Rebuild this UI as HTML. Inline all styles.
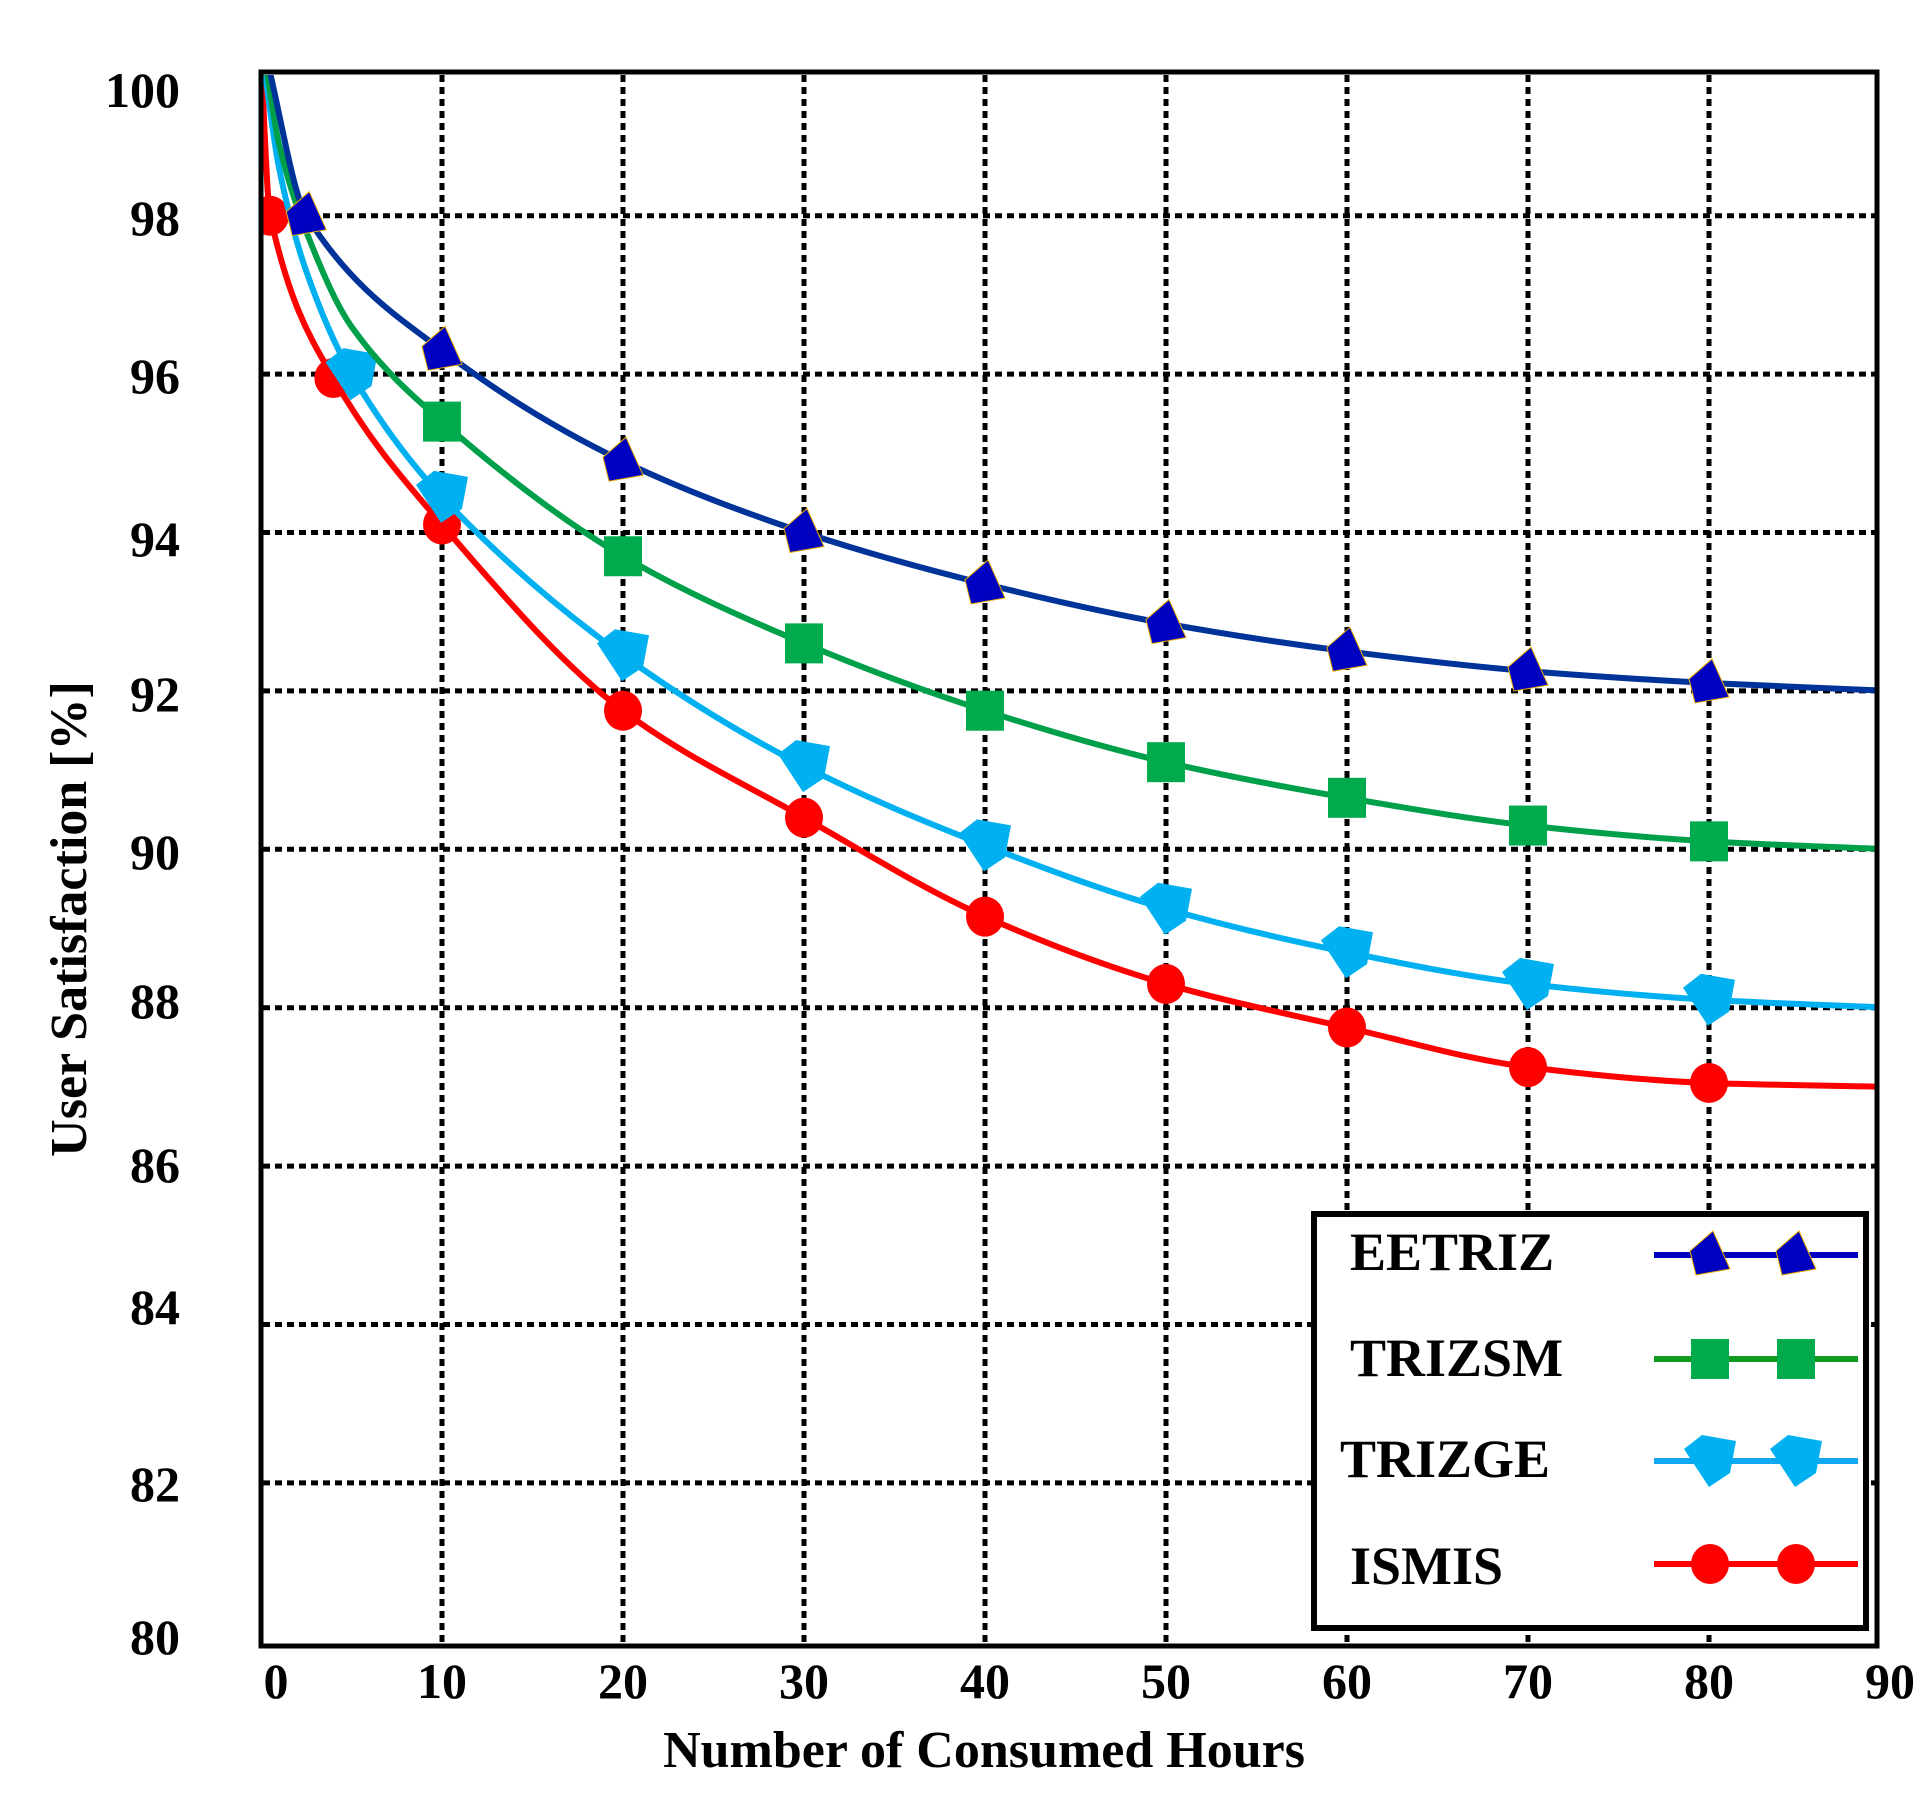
<!DOCTYPE html>
<html><head><meta charset="utf-8">
<style>
html,body{margin:0;padding:0;background:#fff;}
svg{display:block;}
text{font-family:"Liberation Serif","Times New Roman",serif;font-weight:bold;fill:#000;}
</style></head>
<body>
<svg id="chart" width="1924" height="1793" viewBox="0 0 1924 1793" font-family="Liberation Serif, serif">
<defs><clipPath id="plotclip"><rect x="263" y="75" width="1612" height="1569"/></clipPath></defs>
<rect x="0" y="0" width="1924" height="1793" fill="#fff"/>
<g id="grid"></g>
<g id="series" clip-path="url(#plotclip)"></g>
<rect x="261" y="72" width="1616" height="1574" fill="none" stroke="#000" stroke-width="5"/>
<g id="ticks"></g>
<text x="984" y="1767" font-size="52" text-anchor="middle" font-family="Liberation Serif, serif">Number of Consumed Hours</text>
<text x="0" y="0" font-size="52" text-anchor="middle" font-family="Liberation Serif, serif" transform="translate(86,919) rotate(-90)">User Satisfaction [%]</text>
<g id="legend"></g>
</svg>
<script>
const xTicks=[0,10,20,30,40,50,60,70,80,90];
const yTicks=[80,82,84,86,88,90,92,94,96,98,100];
const seriesNames=["EETRIZ","TRIZSM","TRIZGE","ISMIS"];
const eetrizX=[0.3,2.5,10,20,30,40,50,60,70,80,90];
const eetrizY=[100,98.0,96.3,94.9,94.0,93.35,92.85,92.5,92.25,92.1,92.0];
const trizsmX=[0.2,1,2.5,5,10,20,30,40,50,60,70,80,90];
const trizsmY=[100,98.9,97.8,96.6,95.4,93.7,92.6,91.75,91.1,90.65,90.3,90.1,90.0];
const trizgeX=[0.1,1,2.5,5,10,20,30,40,50,60,70,80,90];
const trizgeY=[100,98.6,97.3,96.0,94.45,92.45,91.05,90.05,89.25,88.7,88.3,88.1,88.0];
const ismisX=[0,0.5,4,10,20,30,40,50,60,70,80,90];
const ismisY=[100,98.0,95.95,94.1,91.75,90.4,89.15,88.3,87.75,87.25,87.05,87.0];
const markerIdxE=[1,2,3,4,5,6,7,8,9];
const markerIdxS=[4,5,6,7,8,9,10,11];
const markerIdxG=[3,4,5,6,7,8,9,10,11];
const markerIdxI=[1,2,3,4,5,6,7,8,9,10];

const NS="http://www.w3.org/2000/svg";
function xs(v){return 261+v*18.1;}
function ys(v){return 532.5+(94-v)*79.2;}
function mk(tag,attrs,parent){const e=document.createElementNS(NS,tag);for(const k in attrs)e.setAttribute(k,attrs[k]);parent.appendChild(e);return e;}

const grid=document.getElementById('grid');
xTicks.forEach(t=>{if(t===0||t===90)return;
 const l=mk('line',{x1:xs(t),x2:xs(t),y1:75,y2:1643,stroke:'#000','stroke-width':5,'stroke-dasharray':'7 5'},grid);
 
 });
yTicks.forEach(t=>{if(t===80||t===100)return;
 const l=mk('line',{x1:263,x2:1875,y1:ys(t),y2:ys(t),stroke:'#000','stroke-width':5,'stroke-dasharray':'7 5'},grid);
 
 });

const ticks=document.getElementById('ticks');
xTicks.forEach(t=>{const tx=mk('text',{x:xs(t)+(t===0?15:0),y:1698,'font-size':50,'text-anchor':'middle','font-family':'Liberation Serif, serif'},ticks);tx.textContent=t;
 
 });
const yLabelPos={100:90,98:218,96:376,94:539,92:694,90:852,88:1001,86:1165,84:1307,82:1484,80:1637};
yTicks.forEach(t=>{const tx=mk('text',{x:180,y:yLabelPos[t]+17,'font-size':50,'text-anchor':'end','font-family':'Liberation Serif, serif'},ticks);tx.textContent=t;
 
 });

function pathFor(X,Y){
 const p=X.map((x,i)=>[xs(x),ys(Y[i])]);
 const n=p.length,d=[],m=new Array(n);
 for(let i=0;i<n-1;i++)d.push((p[i+1][1]-p[i][1])/(p[i+1][0]-p[i][0]));
 m[0]=d[0];m[n-1]=d[n-2];
 for(let i=1;i<n-1;i++){m[i]=(d[i-1]*d[i]<=0)?0:(2/(1/d[i-1]+1/d[i]));}
 let s='M'+p[0][0]+','+p[0][1];
 for(let i=0;i<n-1;i++){
  const h=p[i+1][0]-p[i][0];
  s+=' C'+(p[i][0]+h/3)+','+(p[i][1]+m[i]*h/3)+' '+(p[i+1][0]-h/3)+','+(p[i+1][1]-m[i+1]*h/3)+' '+p[i+1][0]+','+p[i+1][1];
 }
 return s;
}
function marker(type,cx,cy,parent){
 let e;
 if(type==='tri'){e=mk('polygon',{points:`${cx+3},${cy-24} ${cx+20},${cy+14} ${cx-14},${cy+20} ${cx-20},${cy-4}`,fill:'#0000c0',stroke:'#f0b000','stroke-width':1},parent);}
 else if(type==='sq'){e=mk('rect',{x:cx-19,y:cy-20,width:38,height:40,fill:'#00ab4e'},parent);}
 else if(type==='pent'){e=mk('polygon',{points:`${cx-26},${cy-12} ${cx-8},${cy-26} ${cx+26},${cy-20} ${cx+20},${cy+12} ${cx-1},${cy+26}`,fill:'#00b0f0'},parent);}
 else {e=mk('ellipse',{cx:cx,cy:cy,rx:19,ry:20,fill:'#ff0000'},parent);}
 return e;
}
const series=document.getElementById('series');
const defs=[
 {name:'ismis',X:ismisX,Y:ismisY,color:'#ff0000',m:'circ',idx:markerIdxI},
 {name:'trizge',X:trizgeX,Y:trizgeY,color:'#00b0f0',m:'pent',idx:markerIdxG},
 {name:'trizsm',X:trizsmX,Y:trizsmY,color:'#00a04a',m:'sq',idx:markerIdxS},
 {name:'eetriz',X:eetrizX,Y:eetrizY,color:'#003399',m:'tri',idx:markerIdxE}
];
defs.forEach(s=>{
 const g=mk('g',{},series);
 
 
 const ln=mk('path',{d:pathFor(s.X,s.Y),fill:'none',stroke:s.color,'stroke-width':6},g);
 
 
 s.idx.forEach(i=>{
  const m=marker(s.m,xs(s.X[i]),ys(s.Y[i]),g);
  
  });
});

const legend=document.getElementById('legend');
const lb=mk('rect',{x:1314,y:1214,width:552,height:414,fill:'#fff',stroke:'#000','stroke-width':6},legend);


const legCols=['#0000c0','#109a20','#10a8f0','#ff0000'];
const legMarks=['tri','sq','pent','circ'];
const legY=[1255,1359,1461,1564];
const legTY=[1270,1376,1477,1584];
seriesNames.forEach((n,i)=>{
 const g=mk('g',{},legend);
 
 
 const t=mk('text',{x:i===2?1340:1350,y:legTY[i],'font-size':54,'font-family':'Liberation Serif, serif'},g);t.textContent=n;
 
 
 const l=mk('line',{x1:1654,x2:1858,y1:legY[i],y2:legY[i],stroke:legCols[i],'stroke-width':6},g);
 
 
 [1710,1796].forEach(cx=>{const m=marker(legMarks[i],cx,legY[i],g);
  
  });
});
</script>
</body></html>
